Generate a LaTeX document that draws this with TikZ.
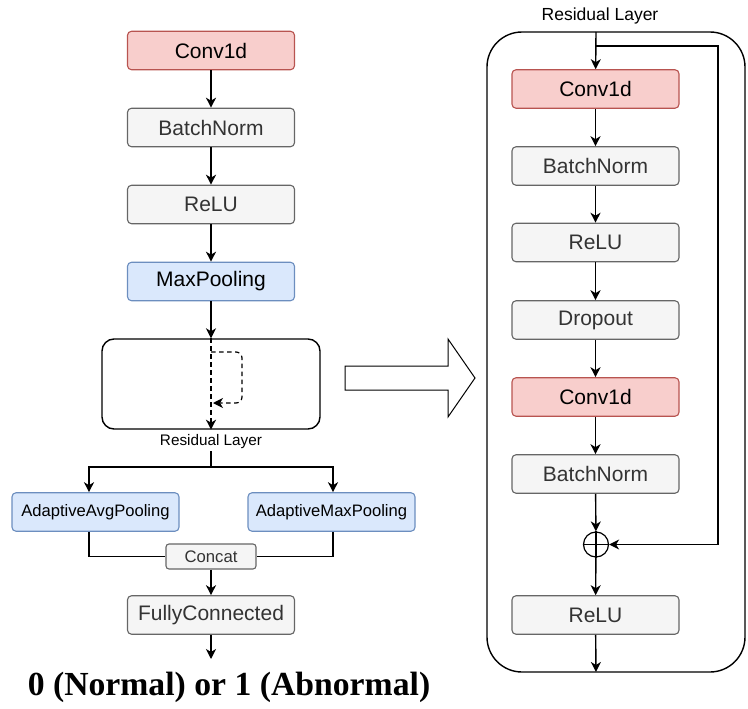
\documentclass[tikz,border=0pt]{standalone}
\usepackage{fontspec}
\setmainfont{Liberation Sans}
\newfontfamily\outfont{Liberation Serif}
\usetikzlibrary{arrows.meta,positioning,calc}
\definecolor{redfill}{HTML}{F8CECC}
\definecolor{reddraw}{HTML}{B85450}
\definecolor{grayfill}{HTML}{F5F5F5}
\definecolor{graydraw}{HTML}{666666}
\definecolor{bluefill}{HTML}{DAE8FC}
\definecolor{bluedraw}{HTML}{6C8EBF}
\definecolor{graytext}{HTML}{333333}
\tikzset{
  blk/.style={rounded corners=4pt, minimum width=167pt, minimum height=38.5pt, line width=1.1pt, inner sep=0pt, font=\fontsize{21}{25}\selectfont},
  redblk/.style={blk, fill=redfill, draw=reddraw},
  grayblk/.style={blk, fill=grayfill, draw=graydraw, text=graytext},
  blueblk/.style={blk, fill=bluefill, draw=bluedraw, font=\fontsize{16.6}{20}\selectfont},
  smallgray/.style={rounded corners=3pt, minimum width=90pt, minimum height=25pt, line width=1.1pt, inner sep=0pt, fill=grayfill, draw=graydraw, text=graytext, font=\fontsize{16.7}{20}\selectfont},
  conn/.style={line width=1.4pt, draw=black},
  arr/.style={conn, -{Stealth[length=10pt,width=10pt,inset=3pt]}},
  darr/.style={arr, dash pattern=on 4.5pt off 3.5pt, line width=1.2pt},
  lbl/.style={inner sep=0pt, text=black},
}
\begin{document}
\begin{tikzpicture}[x=1pt,y=-1pt]
\useasboundingbox (0,0) rectangle (748,709);
% ---------- left column ----------
\node[redblk]  (c1) at (211,50.5) {Conv1d};
\node[grayblk] (b1) at (211,127.5) {BatchNorm};
\node[grayblk] (r1) at (211,204.5) {ReLU};
\node[blueblk, font=\fontsize{21}{25}\selectfont] (mp) at (211,281.5) {MaxPooling};
\node[draw, line width=1.4pt, rounded corners=12pt, minimum width=218pt, minimum height=90pt, inner sep=0pt] (res) at (211,384) {};
\coordinate (dtop) at (211,352);
\coordinate (dback) at (213,403);
\node[lbl, font=\fontsize{15.3}{18}\selectfont] (reslbl) at (211,442) {Residual Layer};
\node[blueblk] (avg) at (95.5,512) {AdaptiveAvgPooling};
\node[blueblk] (max) at (331.5,512) {AdaptiveMaxPooling};
\node[smallgray] (cat) at (211,556.5) {Concat};
\node[grayblk] (fc) at (211,615) {FullyConnected};
\coordinate (outend) at (211,659);
\node[lbl, font=\outfont\bfseries\fontsize{33.7}{40}\selectfont] (out) at (229,687) {0 (Normal) or 1 (Abnormal)};
\coordinate (split) at (211,467);

\draw[arr] (c1) -- (b1);
\draw[arr] (b1) -- (r1);
\draw[arr] (r1) -- (mp);
\draw[arr] (mp) -- (res.north);
\draw[darr] (res.north) -- (res.south);
\draw[darr, rounded corners=6pt] (dtop) -- ++(31,0) -- ++(0,51) -- (dback);
\draw[conn] (reslbl.south) ++(0,2) -- (split);
\draw[arr] (split) -| ([xshift=-6.5pt]avg.north);
\draw[arr] (split) -| ([xshift=1.5pt]max.north);
\draw[conn] ([xshift=-6.5pt]avg.south) |- (cat.west);
\draw[conn] ([xshift=1.5pt]max.south) |- (cat.east);
\draw[arr] (cat) -- (fc);
\draw[arr] (fc) -- (outend);

% ---------- big arrow ----------
\draw[line width=1pt] (345,366) -- (448,366) -- (448,339) -- (475,378) -- (448,417) -- (448,390) -- (345,390) -- cycle;

% ---------- right panel ----------
\node[draw, line width=1.4pt, rounded corners=35pt, minimum width=258pt, minimum height=640pt, inner sep=0pt] (panel) at (616,352) {};
\node[lbl, font=\fontsize{17.5}{21}\selectfont] (rlbl) at (600,16) {Residual Layer};
\coordinate (ptop) at (596,32);
\node[redblk]  (rc1) at (595.5,89) {Conv1d};
\node[grayblk] (rb1) at (595.5,166) {BatchNorm};
\node[grayblk] (rr1) at (595.5,242.5) {ReLU};
\node[grayblk] (rdo) at (595.5,320) {Dropout};
\node[redblk]  (rc2) at (595.5,397) {Conv1d};
\node[grayblk] (rb2) at (595.5,474) {BatchNorm};
\node[draw, circle, line width=1.2pt, minimum size=25pt, inner sep=0pt] (plus) at (596,544.5) {};
\draw[line width=1.2pt] (plus.north) -- (plus.south) (plus.west) -- (plus.east);
\node[grayblk] (rr2) at (595.5,615) {ReLU};
\coordinate (skip) at (596,46);
\coordinate (rend) at (596,672);

\draw[arr] (ptop) -- (rc1);
\draw[conn] (skip) -- (718,46) -- (718,544.5);
\draw[arr] (718,544.5) -- (plus.east);
\draw[arr] (rc1) -- (rb1);
\draw[arr] (rb1) -- (rr1);
\draw[arr] (rr1) -- (rdo);
\draw[arr] (rdo) -- (rc2);
\draw[arr] (rc2) -- (rb2);
\draw[arr] (rb2) -- (plus);
\draw[arr] (plus) -- (rr2);
\draw[arr] (rr2) -- (rend);
\end{tikzpicture}
\end{document}
